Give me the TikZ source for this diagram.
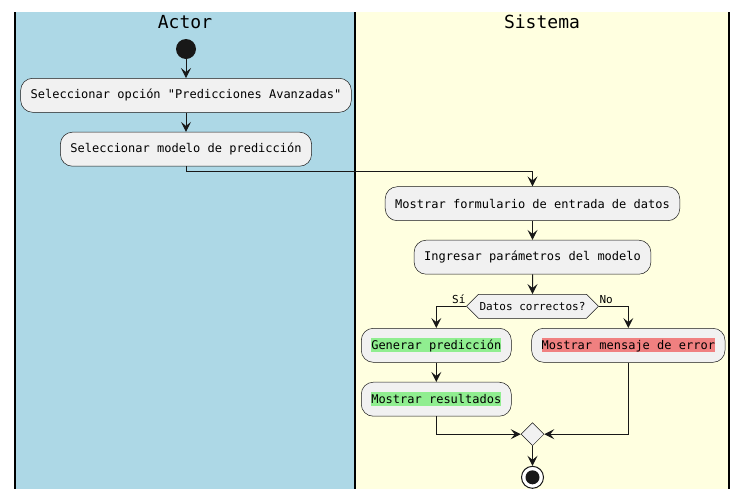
\documentclass[tikz,border=0pt]{standalone}
\usepackage{fontspec}
\setmonofont{DejaVu Sans Mono}
\renewcommand\familydefault{\ttdefault}
\usetikzlibrary{arrows.meta,shapes.symbols,shapes.geometric}
\definecolor{laneblue}{HTML}{ADD8E6}
\definecolor{laneyellow}{HTML}{FFFFE0}
\definecolor{boxfill}{HTML}{F1F1F1}
\definecolor{boxline}{HTML}{181818}
\definecolor{hlgreen}{HTML}{90EE90}
\definecolor{hlred}{HTML}{F08080}
\newcommand\hlbox[2]{{\setlength{\fboxsep}{0pt}\colorbox{#1}{\vphantom{Ágp}#2}}}
\tikzset{
  action/.style={draw=boxline, line width=0.5pt, fill=boxfill, rounded corners=12pt,
    minimum height=34pt, inner xsep=10pt, inner ysep=0pt, font=\ttfamily\fontsize{12}{14}\selectfont},
  arr/.style={draw=boxline, line width=1pt, -{Stealth[length=10pt,width=10pt,inset=4pt]}},
  lanetitle/.style={font=\ttfamily\fontsize{18}{20}\selectfont},
  decision/.style={shape=signal, signal to=east and west, draw=boxline, line width=0.5pt,
    fill=boxfill, minimum height=24pt, inner xsep=1pt, inner ysep=0pt,
    font=\ttfamily\fontsize{11}{13}\selectfont},
  merge/.style={shape=diamond, draw=boxline, line width=0.5pt, fill=boxfill,
    minimum size=23pt, inner sep=0pt},
  startnode/.style={circle, fill=boxline, minimum size=20pt, inner sep=0pt},
  endnode/.style={circle, draw=boxline, line width=1pt, fill=white, minimum size=22pt, inner sep=0pt,
    path picture={\fill[boxline] (path picture bounding box.center) circle (7pt);}},
  guard/.style={font=\ttfamily\fontsize{11}{13}\selectfont, inner sep=0.5pt},
}
\begin{document}
\begin{tikzpicture}[x=1pt,y=-1pt]
\useasboundingbox (0,0) rectangle (750,499);
% lanes
\fill[laneblue] (15,12) rectangle (355,488.5);
\fill[laneyellow] (355,12) rectangle (729,488.5);
\draw[line width=1.5pt, black] (15,12) -- (15,488.5);
\draw[line width=1.5pt, black] (355,12) -- (355,488.5);
\draw[line width=1.5pt, black] (729,12) -- (729,488.5);
\node[lanetitle] (tactor) at (185,22) {Actor};
\node[lanetitle] (tsist) at (542,22) {Sistema};
% nodes
\node[startnode] (start) at (186,49) {};
\node[action] (b1) at (186,95.3) {Seleccionar opción "Predicciones Avanzadas"};
\node[action] (b2) at (186,149.2) {Seleccionar modelo de predicción};
\node[action] (b3) at (532.5,203.7) {Mostrar formulario de entrada de datos};
\node[action] (b4) at (532.5,257.2) {Ingresar parámetros del modelo};
\node[decision] (dec) at (532.5,306.3) {Datos correctos?};
\node[action] (b5) at (436.3,345.3) {\hlbox{hlgreen}{Generar predicción}};
\node[action] (b6) at (436.3,399.2) {\hlbox{hlgreen}{Mostrar resultados}};
\node[action] (b7) at (628.3,345.3) {\hlbox{hlred}{Mostrar mensaje de error}};
\node[merge] (mg) at (532.5,434.2) {};
\node[endnode] (end) at (532.5,477.3) {};
\node[guard, anchor=base east] (lsi) at ([yshift=2.5pt]dec.west) {Sí};
\node[guard, anchor=base west] (lno) at ([yshift=2.5pt]dec.east) {No};
% connectors
\draw[arr] (start) -- (b1);
\draw[arr] (b1) -- (b2);
\draw[arr] (b2.south) -- ++(0,5) -| (b3.north);
\draw[arr] (b3) -- (b4);
\draw[arr] (b4) -- (dec);
\draw[arr] (dec.west) -| (b5.north);
\draw[arr] (dec.east) -| (b7.north);
\draw[arr] (b5) -- (b6);
\draw[arr] (b6.south) |- (mg.west);
\draw[arr] (b7.south) |- (mg.east);
\draw[arr] (mg) -- (end);
\end{tikzpicture}
\end{document}
